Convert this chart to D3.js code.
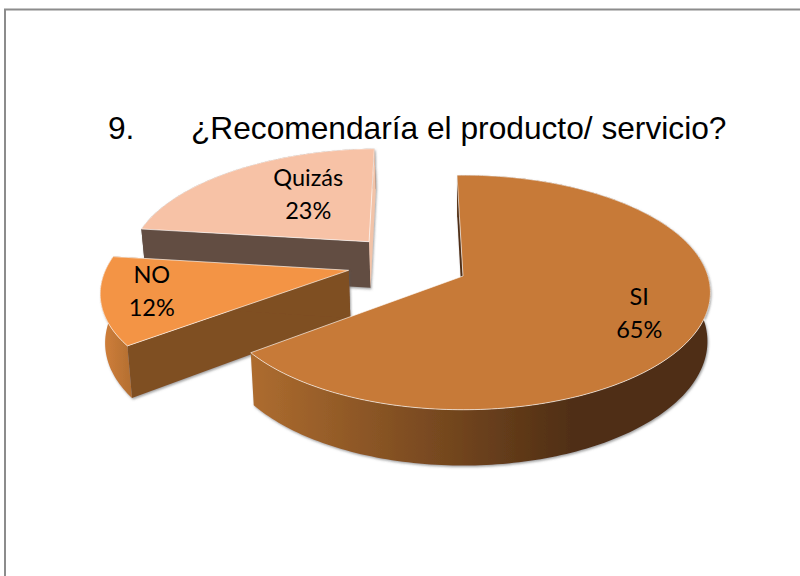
<!DOCTYPE html>
<html>
<head>
<meta charset="utf-8">
<script src="https://d3js.org/d3.v7.min.js"></script>
<style>
  html, body { margin: 0; padding: 0; background: #fff; }
  svg { display: block; }
</style>
</head>
<body>
<div id="chart"></div>
<script>
var categories = ["SI", "NO", "Quizás"];
var shares = [65, 12.4, 22.6];
var percentLabels = ["65%", "12%", "23%"];
var titleNumber = "9.";
var titleText = "¿Recomendaría el producto/ servicio?";

var topColors = ["#c77a38", "#f39445", "#f7c2a6"];
var edgeColors = ["#4f2e14", "#7f4f24", "#624d42"];

// how far each slice is pulled out, in units of the pie radius
var explodeU = [0, -0.47, -0.40];
var explodeV = [0, -0.05, -0.311];
var labelR = [0.76, 0.8, 0.5];
var labelDx = [0, 0, 10];
var labelDy = [-3, -5, -12];

var width = 800, height = 576;
var svg = d3.select("#chart").append("svg").attr("width", width).attr("height", height);
var defs = svg.append("defs");

// frame, open on the right and at the bottom
svg.append("path")
  .attr("d", "M5,576V9.5H800")
  .attr("fill", "none").attr("stroke", "#8c8c8c").attr("stroke-width", 2);

// title
svg.append("text").attr("x", 108).attr("y", 139)
  .attr("font-family", "Liberation Sans").attr("font-size", 31.7).text(titleNumber);
svg.append("text").attr("x", 191).attr("y", 139)
  .attr("font-family", "Liberation Sans").attr("font-size", 31.7).text(titleText);

// perspective of the pie plane
var cx = 463, cy = 276, rx = 245, ry = 115, k = 0.14, depth = 48;

function project(u, v, bottom) {
  var w = 1 - k * v;
  var x = cx + rx * u / w;
  var y = cy + ry * v / w;
  if (bottom) {
    x = 480 + (x - 480) * 0.987;
    y = y + depth / w;
  }
  return [x, y];
}

var pie = d3.pie().sort(null).startAngle(-1.6 * Math.PI / 180)
  .endAngle(358.4 * Math.PI / 180);
var arcs = pie(shares);

var line = d3.line();

function rim(i, a0, a1, bottom) {
  var n = Math.max(2, Math.ceil(Math.abs(a1 - a0) / 0.02));
  return d3.range(n + 1).map(function (j) {
    var a = a0 + (a1 - a0) * j / n;
    return project(Math.sin(a) + explodeU[i], -Math.cos(a) + explodeV[i], bottom);
  });
}

function apex(i, bottom) {
  return project(explodeU[i], explodeV[i], bottom);
}

function edgeWall(i, a) {
  var p = rim(i, a, a, false)[0], q = rim(i, a, a, true)[0];
  return line([apex(i, false), p, q, apex(i, true)]) + "Z";
}

// soft grey shadow round the solid parts
var shadow = defs.append("filter").attr("id", "shadow")
  .attr("x", "-5%").attr("y", "-5%").attr("width", "110%").attr("height", "115%");
shadow.append("feDropShadow").attr("dx", 1).attr("dy", 1.5)
  .attr("stdDeviation", 1).attr("flood-color", "#555").attr("flood-opacity", 0.55);

// outer wall shading, light at the left and dark to the right
var grad0 = defs.append("linearGradient").attr("id", "wall0")
  .attr("gradientUnits", "userSpaceOnUse").attr("x1", 252).attr("x2", 575).attr("y1", 0).attr("y2", 0);
grad0.append("stop").attr("offset", 0).attr("stop-color", "#ad6c2f");
grad0.append("stop").attr("offset", 1).attr("stop-color", "#4f2e14");
var grad1 = defs.append("linearGradient").attr("id", "wall1")
  .attr("gradientUnits", "userSpaceOnUse").attr("x1", 104).attr("x2", 135).attr("y1", 0).attr("y2", 0);
grad1.append("stop").attr("offset", 0).attr("stop-color", "#cf7e3a");
grad1.append("stop").attr("offset", 1).attr("stop-color", "#b06d30");

var wallFill = ["url(#wall0)", "url(#wall1)", edgeColors[2]];
var farWallFill = ["#4f2e14", "#7f4f24", "#f2c3a8"];

// paint back to front: Quizás, NO, SI
[2, 1, 0].forEach(function (i) {
  var d = arcs[i];
  var g = svg.append("g").attr("class", "slice");
  var solid = g.append("g").attr("filter", "url(#shadow)");

  // outer curved wall
  var outer = rim(i, d.startAngle, d.endAngle, false)
    .concat(rim(i, d.endAngle, d.startAngle, true));
  solid.append("path").attr("d", line(outer) + "Z").attr("fill", wallFill[i]);
  // wall along the start edge of the slice
  solid.append("path").attr("d", edgeWall(i, d.startAngle))
    .attr("fill", i == 2 ? edgeColors[2] : farWallFill[i]);
  // wall along the end edge, the one on SI faces away and stays hidden
  if (i != 0) {
    solid.append("path").attr("d", edgeWall(i, d.endAngle))
      .attr("fill", i == 2 ? farWallFill[2] : edgeColors[i]);
  }

  // top face
  var face = [apex(i, false)].concat(rim(i, d.startAngle, d.endAngle, false));
  g.append("path").attr("d", line(face) + "Z")
    .attr("fill", topColors[i])
    .attr("stroke", "#fff").attr("stroke-opacity", 0.8).attr("stroke-width", 0.8)
    .attr("stroke-linejoin", "round");
});

// labels
arcs.forEach(function (d, i) {
  var mid = (d.startAngle + d.endAngle) / 2;
  var p = project(Math.sin(mid) * labelR[i] + explodeU[i], -Math.cos(mid) * labelR[i] + explodeV[i], false);
  var x = p[0] + labelDx[i], y = p[1] + labelDy[i];
  var t = svg.append("text").attr("text-anchor", "middle")
    .attr("font-family", "Lato").attr("font-size", 23.5).attr("fill", "#000");
  t.append("tspan").attr("x", x).attr("y", y - 7).text(categories[i]);
  t.append("tspan").attr("x", x).attr("y", y + 26).text(percentLabels[i]);
});
</script>
</body>
</html>
